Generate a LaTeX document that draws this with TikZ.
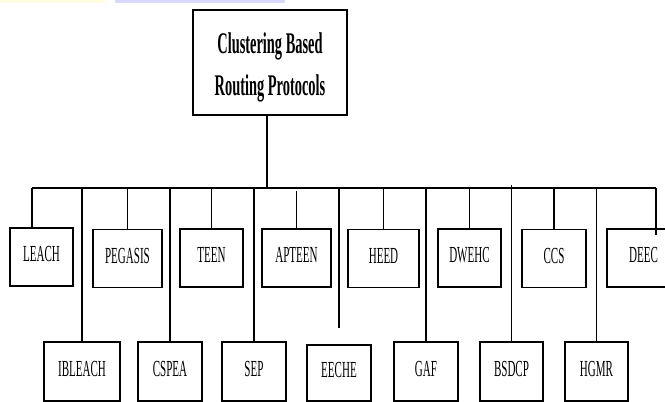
\documentclass[tikz,border=0pt]{standalone}
\usepackage{fontspec}
\setmainfont{Liberation Serif}[FakeStretch=0.48]
\begin{document}
\begin{tikzpicture}[x=1pt,y=-1pt,
  proto/.style={draw,line width=1.6pt,minimum height=58pt,inner sep=0pt,text depth=6pt,
    font=\fontsize{23}{25}\selectfont},
  link/.style={line width=1.3pt}]
\useasboundingbox (0,0) rectangle (665,402);
\clip (0,0) rectangle (665,402);
% strip at the top edge
\fill[yellow!12] (0,0) rectangle (105,3);
\fill[blue!15] (115,0) rectangle (285,3);

\node[draw,line width=1.8pt,minimum width=154pt,minimum height=105pt] (root) at (270,62.5) {};
\node[align=center,font=\fontsize{30}{42}\selectfont\bfseries] (root-label) at (270,67)
  {Clustering Based\\Routing Protocols};

% upper row
\node[proto,minimum width=63pt] (leach) at (41.5,257) {LEACH};
\node[proto,minimum width=69pt] (pegasis) at (127.5,258.5) {PEGASIS};
\node[proto,minimum width=63pt] (teen) at (211.5,258) {TEEN};
\node[proto,minimum width=69pt] (apteen) at (296.5,258) {APTEEN};
\node[proto,minimum width=71pt] (heed) at (383.5,258.5) {HEED};
\node[proto,minimum width=63pt] (dwehc) at (469.5,258) {DWEHC};
\node[proto,minimum width=64pt] (ccs) at (554,258.5) {CCS};
\node[proto,minimum width=73pt] (deec) at (643.5,258) {DEEC};

% lower row
\node[proto,minimum width=76pt,minimum height=59pt] (ibleach) at (82,371.5) {IBLEACH};
\node[proto,minimum width=64pt,minimum height=59pt] (cspea) at (170,371.5) {CSPEA};
\node[proto,minimum width=64pt,minimum height=59pt] (sep) at (254,371.5) {SEP};
\node[proto,minimum width=64pt,minimum height=56pt] (eeche) at (339,373) {EECHE};
\node[proto,minimum width=64pt,minimum height=59pt] (gaf) at (426,371.5) {GAF};
\node[proto,minimum width=63pt,minimum height=59pt] (bsdcp) at (511.5,371.5) {BSDCP};
\node[proto,minimum width=63pt,minimum height=59pt] (hgmr) at (596.5,371.5) {HGMR};

\coordinate (bus-root) at (267,188);
\coordinate (bus-l) at (32,188);
\coordinate (bus-r) at (656,188);
\coordinate (deec-end) at (656,235);
\coordinate (eeche-end) at (339,328);

\draw[link] (root.south -| bus-root) -- (bus-root);
\draw[link] (bus-l) -- (bus-r);

\draw[link] (bus-l) -- (bus-l |- leach.north);
\draw[link] (pegasis.north |- bus-l) -- (pegasis.north);
\draw[link] (teen.north |- bus-l) -- (teen.north);
\draw[link] (apteen.north) -- ++(0,-37);
\draw[link] (heed.north |- bus-l) -- (heed.north);
\draw[link] (dwehc.north |- bus-l) -- (dwehc.north);
\draw[link] (ccs.north |- bus-l) -- (ccs.north);
\draw[link] (bus-r) -- (deec-end);

\draw[link] (ibleach.north |- bus-l) -- (ibleach.north);
\draw[link] (cspea.north |- bus-l) -- (cspea.north);
\draw[link] (sep.north |- bus-l) -- (sep.north);
\draw[link] (eeche-end |- bus-l) -- (eeche-end);
\draw[link] (gaf.north |- bus-l) -- (gaf.north);
\draw[link] (bsdcp.north) -- ++(0,-156);
\draw[link] (hgmr.north |- bus-l) -- (hgmr.north);
\end{tikzpicture}
\end{document}
